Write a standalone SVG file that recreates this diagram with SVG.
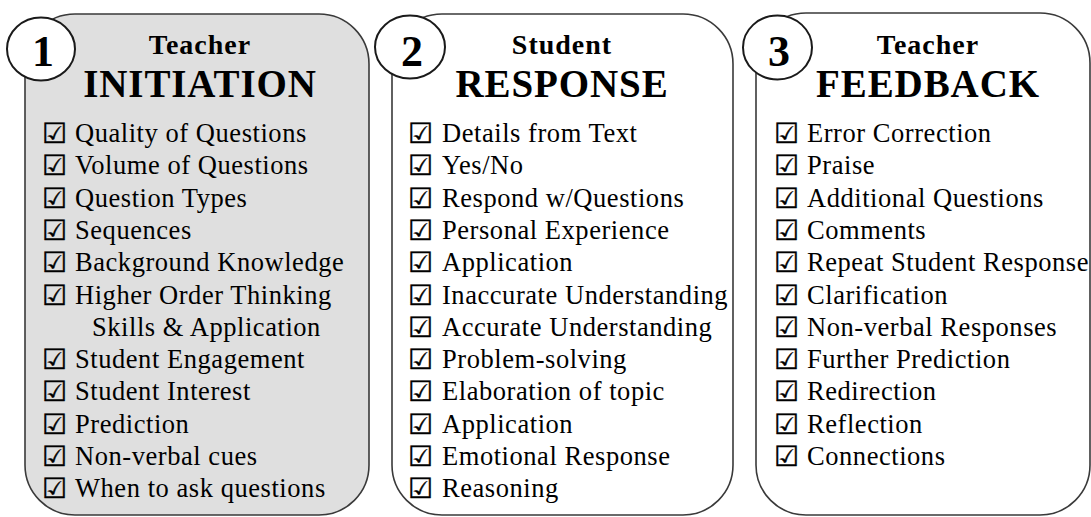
<svg xmlns="http://www.w3.org/2000/svg" width="1091" height="517" viewBox="0 0 1091 517">
  <style>
    .panel { stroke: #3a3a3a; stroke-width: 1.6; }
    .badge { fill: #ffffff; stroke: #1a1a1a; stroke-width: 2; }
    .num { font-family: "Liberation Serif", "Times New Roman", serif; font-weight: bold; font-size: 44px; fill: #000; text-anchor: middle; }
    .sub { font-family: "Liberation Serif", "Times New Roman", serif; font-weight: bold; font-size: 28px; letter-spacing: 1px; fill: #000; text-anchor: middle; }
    .title { font-family: "Liberation Serif", "Times New Roman", serif; font-weight: bold; font-size: 39px; letter-spacing: 0.9px; fill: #000; text-anchor: middle; }
    .box { font-family: "DejaVu Sans", sans-serif; font-size: 28px; fill: #000; stroke: #000; stroke-width: 0.4; }
    .item { font-family: "Liberation Serif", "Times New Roman", serif; font-size: 26.5px; letter-spacing: 0.55px; fill: #000; }
  </style>

  <!-- Panel 1: Teacher Initiation -->
  <g id="panel-initiation">
    <rect class="panel" x="25" y="14" width="344" height="501" rx="50" ry="50" fill="#dfdfdf"/>
    <ellipse class="badge" cx="41" cy="49" rx="34" ry="31.5"/>
    <text class="num" x="43" y="66">1</text>
    <text class="sub" x="200" y="54">Teacher</text>
    <text class="title" x="200" y="97">INITIATION</text>
    <g>
      <text class="box" x="42" y="143">☑</text><text class="item" x="75" y="142">Quality of Questions</text>
      <text class="box" x="42" y="175">☑</text><text class="item" x="75" y="174">Volume of Questions</text>
      <text class="box" x="42" y="208">☑</text><text class="item" x="75" y="207">Question Types</text>
      <text class="box" x="42" y="240">☑</text><text class="item" x="75" y="239">Sequences</text>
      <text class="box" x="42" y="272">☑</text><text class="item" x="75" y="271">Background Knowledge</text>
      <text class="box" x="42" y="305">☑</text><text class="item" x="75" y="304">Higher Order Thinking</text>
      <text class="item" x="92" y="336">Skills &amp; Application</text>
      <text class="box" x="42" y="369">☑</text><text class="item" x="75" y="368">Student Engagement</text>
      <text class="box" x="42" y="401">☑</text><text class="item" x="75" y="400">Student Interest</text>
      <text class="box" x="42" y="434">☑</text><text class="item" x="75" y="433">Prediction</text>
      <text class="box" x="42" y="466">☑</text><text class="item" x="75" y="465">Non-verbal cues</text>
      <text class="box" x="42" y="498">☑</text><text class="item" x="75" y="497">When to ask questions</text>
    </g>
  </g>

  <!-- Panel 2: Student Response -->
  <g id="panel-response">
    <rect class="panel" x="392" y="14" width="341" height="501" rx="50" ry="50" fill="#ffffff"/>
    <ellipse class="badge" cx="410" cy="47" rx="35" ry="31.5"/>
    <text class="num" x="412" y="66">2</text>
    <text class="sub" x="562" y="54">Student</text>
    <text class="title" x="562" y="97">RESPONSE</text>
    <g>
      <text class="box" x="408" y="143">☑</text><text class="item" x="442" y="142">Details from Text</text>
      <text class="box" x="408" y="175">☑</text><text class="item" x="442" y="174">Yes/No</text>
      <text class="box" x="408" y="208">☑</text><text class="item" x="442" y="207">Respond w/Questions</text>
      <text class="box" x="408" y="240">☑</text><text class="item" x="442" y="239">Personal Experience</text>
      <text class="box" x="408" y="272">☑</text><text class="item" x="442" y="271">Application</text>
      <text class="box" x="408" y="305">☑</text><text class="item" x="442" y="304">Inaccurate Understanding</text>
      <text class="box" x="408" y="337">☑</text><text class="item" x="442" y="336">Accurate Understanding</text>
      <text class="box" x="408" y="369">☑</text><text class="item" x="442" y="368">Problem-solving</text>
      <text class="box" x="408" y="401">☑</text><text class="item" x="442" y="400">Elaboration of topic</text>
      <text class="box" x="408" y="434">☑</text><text class="item" x="442" y="433">Application</text>
      <text class="box" x="408" y="466">☑</text><text class="item" x="442" y="465">Emotional Response</text>
      <text class="box" x="408" y="498">☑</text><text class="item" x="442" y="497">Reasoning</text>
    </g>
  </g>

  <!-- Panel 3: Teacher Feedback -->
  <g id="panel-feedback">
    <rect class="panel" x="756" y="13" width="334" height="502" rx="50" ry="50" fill="#ffffff"/>
    <ellipse class="badge" cx="777.5" cy="47.5" rx="34.5" ry="32"/>
    <text class="num" x="779" y="66">3</text>
    <text class="sub" x="928" y="54">Teacher</text>
    <text class="title" x="928" y="97">FEEDBACK</text>
    <g>
      <text class="box" x="774" y="143">☑</text><text class="item" x="807" y="142">Error Correction</text>
      <text class="box" x="774" y="175">☑</text><text class="item" x="807" y="174">Praise</text>
      <text class="box" x="774" y="208">☑</text><text class="item" x="807" y="207">Additional Questions</text>
      <text class="box" x="774" y="240">☑</text><text class="item" x="807" y="239">Comments</text>
      <text class="box" x="774" y="272">☑</text><text class="item" x="807" y="271">Repeat Student Response</text>
      <text class="box" x="774" y="305">☑</text><text class="item" x="807" y="304">Clarification</text>
      <text class="box" x="774" y="337">☑</text><text class="item" x="807" y="336">Non-verbal Responses</text>
      <text class="box" x="774" y="369">☑</text><text class="item" x="807" y="368">Further Prediction</text>
      <text class="box" x="774" y="401">☑</text><text class="item" x="807" y="400">Redirection</text>
      <text class="box" x="774" y="434">☑</text><text class="item" x="807" y="433">Reflection</text>
      <text class="box" x="774" y="466">☑</text><text class="item" x="807" y="465">Connections</text>
    </g>
  </g>
</svg>
